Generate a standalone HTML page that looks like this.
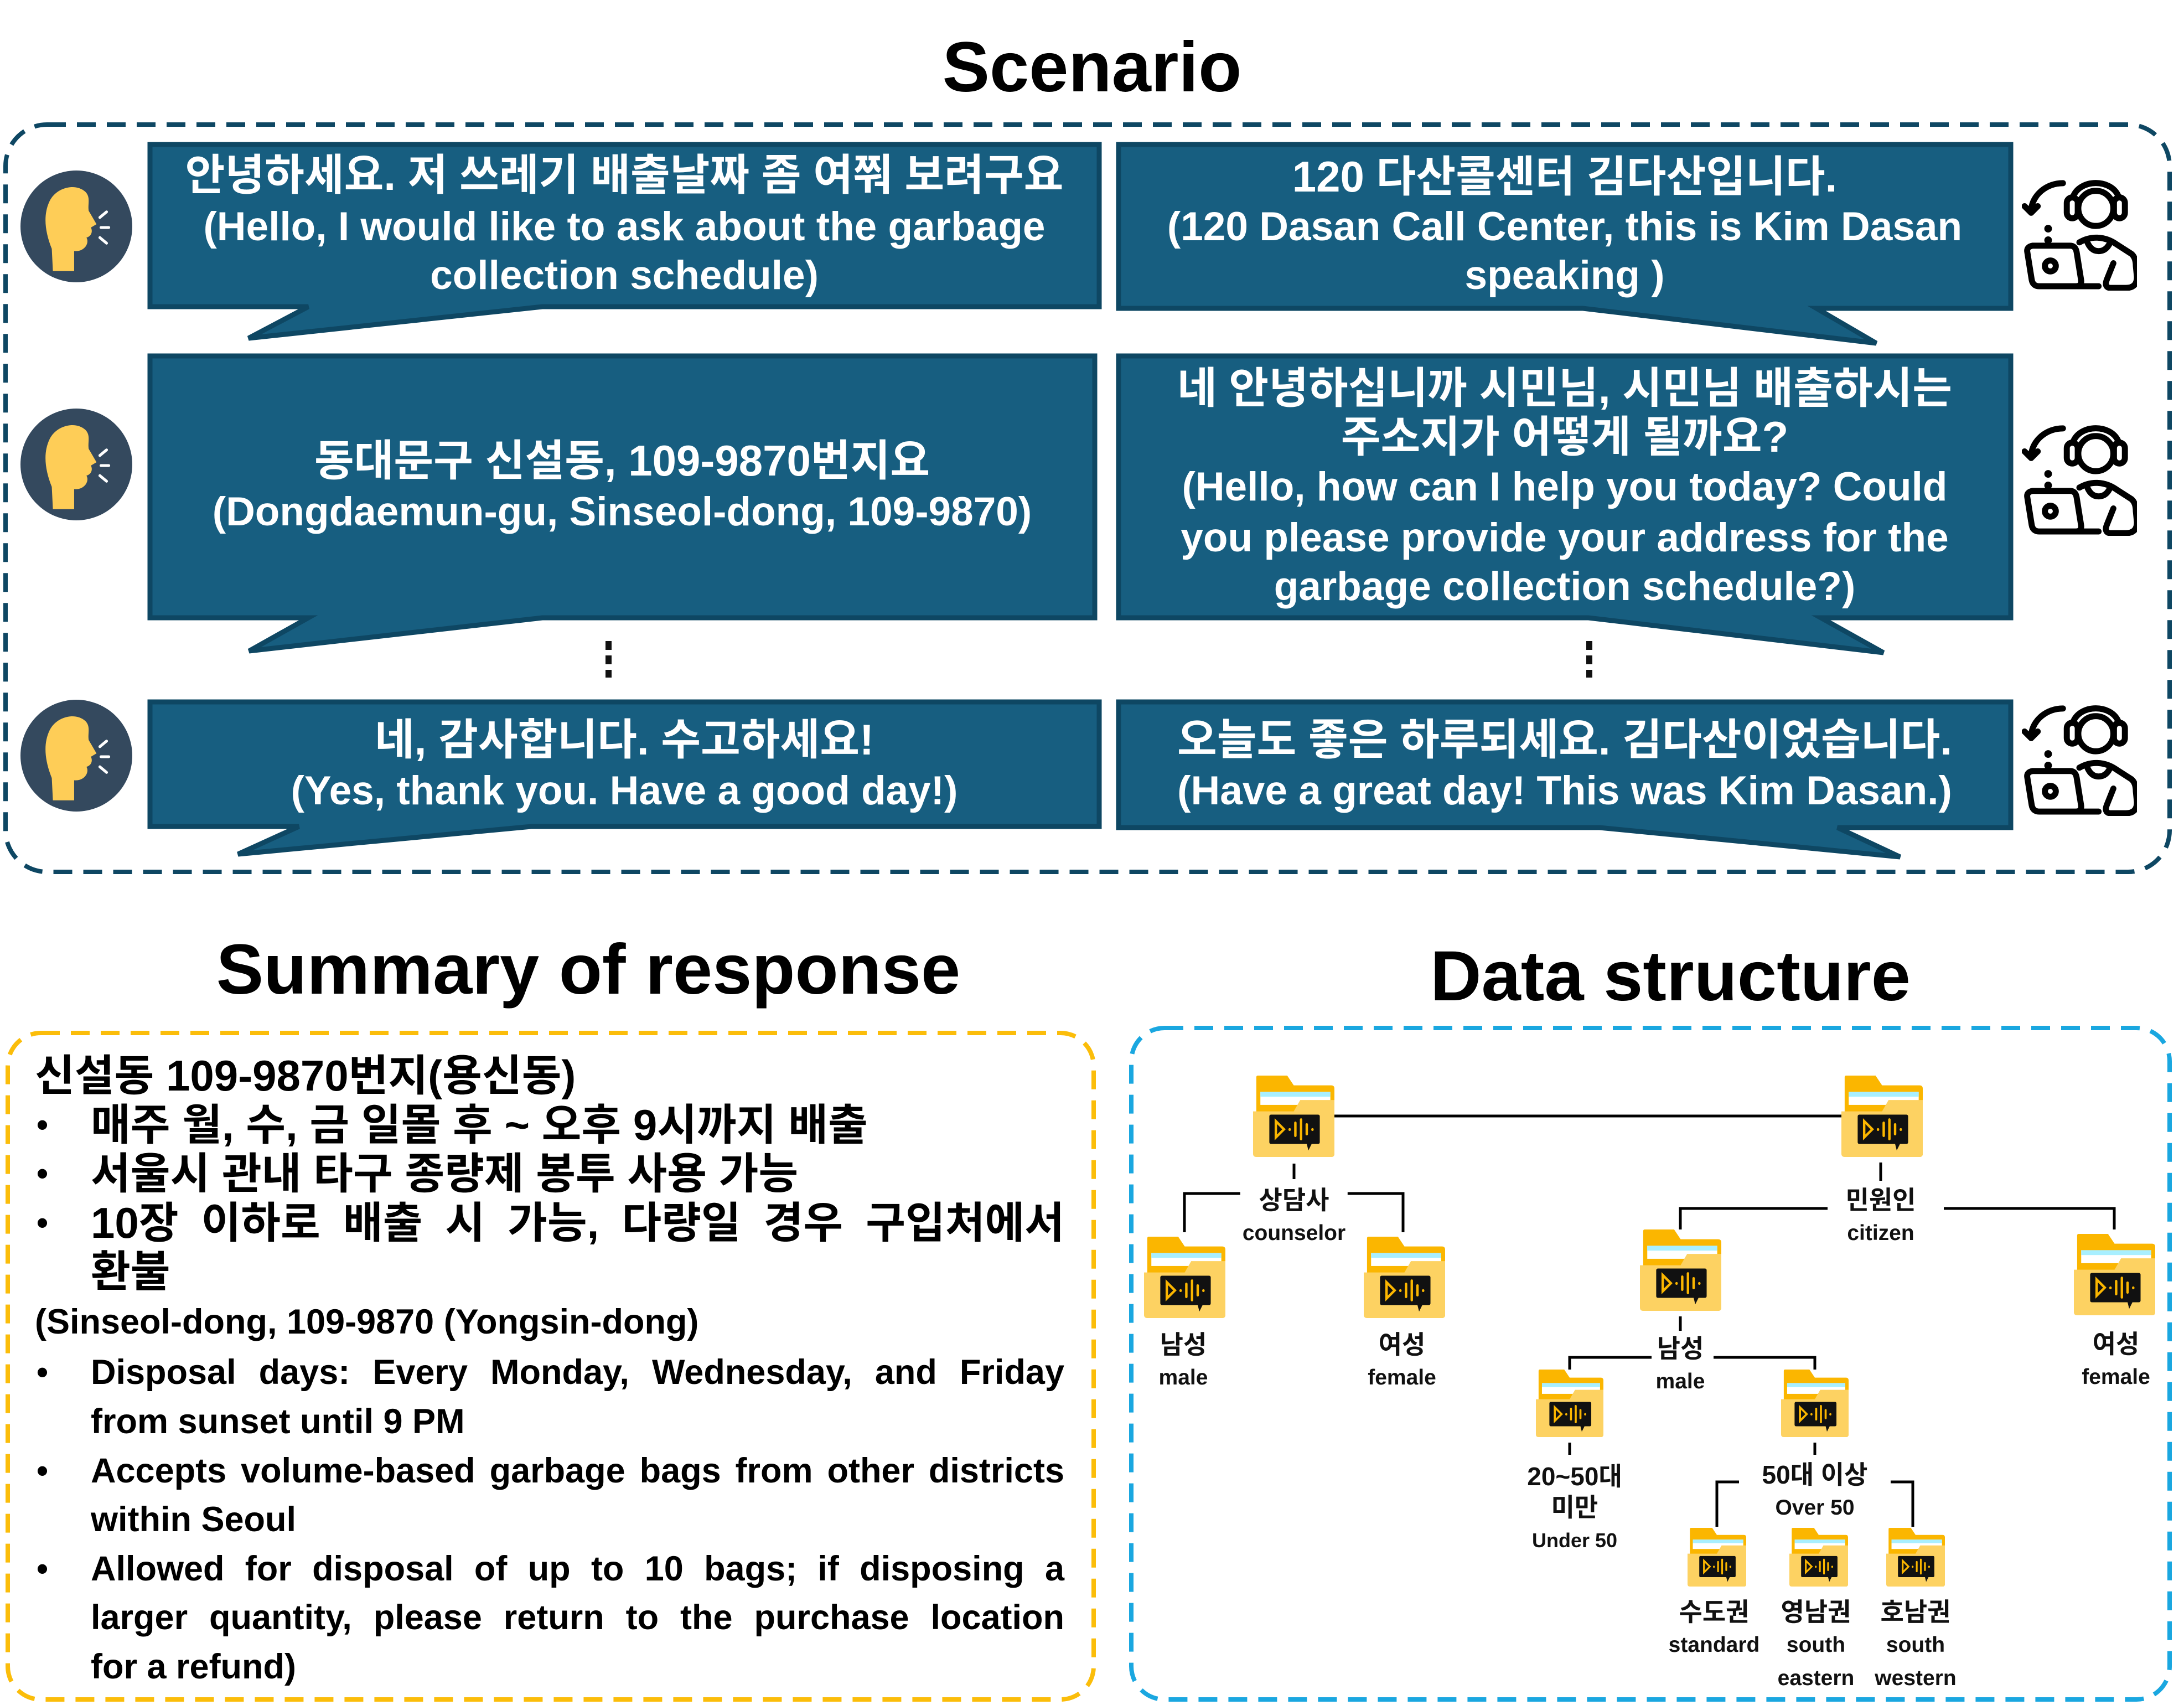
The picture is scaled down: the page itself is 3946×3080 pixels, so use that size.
<!DOCTYPE html>
<html><head><meta charset="utf-8"><style>
*{margin:0;padding:0;box-sizing:border-box}
body{width:3946px;height:3080px;background:#fff;position:relative;overflow:hidden;font-family:"Liberation Sans","Noto Sans CJK KR",sans-serif;font-weight:bold}
.t{position:absolute;white-space:nowrap;line-height:90px;height:90px}
.w{color:#fff;font-size:73px;text-align:center}
.k{font-size:78px}
.c{transform:translateX(-50%)}
.h{font-size:128px;color:#000}
.s{position:absolute;font-size:63px;line-height:90px;height:90px;white-space:nowrap;color:#000}
.sk{font-size:78px}
.j{text-align:justify;text-align-last:justify}
.b{position:absolute;font-size:60px;line-height:90px;height:90px}
.d{position:absolute;font-size:46px;line-height:56px;text-align:center;transform:translateX(-50%);white-space:nowrap;color:#111}
.d i{font-style:normal;font-size:39px}
</style></head><body>
<svg width="3946" height="3080" style="position:absolute;left:0;top:0">
<defs>
<symbol id="fold" viewBox="0 0 100 100">
<path d="M4,2 Q4,0 6,0 H42 L50,12 H96 Q100,12 100,16 V96 Q100,100 96,100 H4 Z" fill="#fbb600"/>
<rect x="9" y="20" width="86" height="16" fill="#fff"/>
<rect x="9" y="20" width="86" height="6" fill="#a8efff"/>
<path d="M0,44 H50 L58,30 H100 V96 Q100,100 96,100 H4 Q0,100 0,96 Z" fill="#fdd262"/>
<rect x="20" y="48" width="62" height="36" rx="2" fill="#111"/>
<path d="M66,84 L72,84 L68,92 Z" fill="#111"/>
<path d="M28,56 L28,76 L38,66 Z" fill="none" stroke="#fbb600" stroke-width="3"/>
<g stroke="#fbb600" stroke-width="3" stroke-linecap="round"><line x1="45" y1="66" x2="45" y2="66.5"/><line x1="52" y1="58" x2="52" y2="74"/><line x1="59" y1="54" x2="59" y2="78"/><line x1="66" y1="60" x2="66" y2="72"/><line x1="73" y1="66" x2="73" y2="66.5"/></g>
</symbol>
<symbol id="head" viewBox="-100 -100 200 200">
<circle cx="0" cy="0" r="100" fill="#34495e"/>
<path d="M-42,80 L-44,40 C-56,10 -60,-20 -48,-45 C-36,-70 -2,-78 16,-62 C26,-52 20,-40 22,-28 L36,-4 L26,2 C30,10 26,18 18,20 C24,30 14,46 -4,44 L-4,80 Z" fill="#fecd57"/>
<g stroke="#fff" stroke-width="5" stroke-linecap="round"><line x1="42" y1="-16" x2="54" y2="-26"/><line x1="44" y1="2" x2="58" y2="2"/><line x1="42" y1="20" x2="54" y2="30"/></g>
</symbol>
<symbol id="agent" viewBox="0 0 210 210">
<g fill="none" stroke="#000" stroke-width="11" stroke-linecap="round" stroke-linejoin="round">
<path d="M75,14 C45,14 20,35 17,62"/><path d="M5,56 L17,68 L29,56"/>
<circle cx="135" cy="60" r="32"/>
<path d="M93,40 C105,5 165,5 177,40"/>
<rect x="82" y="40" width="20" height="38" rx="10"/><rect x="168" y="40" width="20" height="38" rx="10"/>
<path d="M105,122 C125,110 150,110 172,125 L200,143 Q208,150 208,165 L210,185 Q210,205 190,205 L160,205 Q150,203 155,190 L167,160"/>
<path d="M118,118 Q125,138 140,138 Q155,138 162,120"/>
<path d="M10,140 Q8,130 20,128 L88,128 Q98,128 100,140 L108,190 Q110,202 98,202 L32,202 Q20,202 18,190 Z"/>
<line x1="100" y1="202" x2="140" y2="202"/>
<circle cx="52" cy="165" r="10"/>
</g>
<circle cx="48" cy="97" r="7" fill="#000"/><circle cx="48" cy="118" r="7" fill="#000"/>
</symbol>
</defs>
<rect x="10" y="225" width="3910" height="1350" rx="75" fill="none" stroke="#0e4763" stroke-width="8" stroke-dasharray="34 20"/>
<g fill="#175e80" stroke="#0e4763" stroke-width="9" stroke-linejoin="miter">
<path d="M271,261 H1986 V554 H980 L449,611 L557,554 H271 Z"/>
<path d="M2021,261 H3633 V557 H3282 L3390,620 L2860,557 H2021 Z"/>
<path d="M271,643 H1978 V1116 H980 L450,1176 L557,1116 H271 Z"/>
<path d="M2021,643 H3633 V1116 H3290 L3403,1179 L2870,1116 H2021 Z"/>
<path d="M271,1268 H1986 V1493 H960 L430,1543 L540,1493 H271 Z"/>
<path d="M2021,1268 H3633 V1495 H3320 L3433,1548 L2890,1495 H2021 Z"/>
</g>
<g fill="#111"><rect x="1094" y="1158" width="11" height="16"/><rect x="1094" y="1184" width="11" height="16"/><rect x="1094" y="1210" width="11" height="14"/>
<rect x="2866" y="1158" width="11" height="16"/><rect x="2866" y="1184" width="11" height="16"/><rect x="2866" y="1210" width="11" height="14"/></g>
<use href="#head" x="37" y="308" width="202" height="202"/>
<use href="#head" x="37" y="738" width="202" height="202"/>
<use href="#head" x="37" y="1264" width="202" height="202"/>
<use href="#agent" x="3653" y="317" width="208" height="208"/>
<use href="#agent" x="3653" y="760" width="208" height="208"/>
<use href="#agent" x="3653" y="1266" width="208" height="208"/>
<rect x="14" y="1866" width="1962" height="1204" rx="60" fill="none" stroke="#fbbd0a" stroke-width="8" stroke-dasharray="34 20"/>
<rect x="2044" y="1857" width="1876" height="1213" rx="60" fill="none" stroke="#1aa7e0" stroke-width="8" stroke-dasharray="34 20"/>
<g stroke="#000" stroke-width="5" fill="none">
<line x1="2411" y1="2016" x2="3327" y2="2016"/>
<line x1="2338" y1="2102" x2="2338" y2="2130"/>
<path d="M2140,2226 V2156 H2272"/><path d="M2404,2156 H2535 V2226"/>
<line x1="3398" y1="2100" x2="3398" y2="2133"/>
<path d="M3036,2221 V2183 H3302"/><path d="M3512,2183 H3820 V2221"/>
<line x1="3036" y1="2378" x2="3036" y2="2404"/>
<path d="M2836,2474 V2452 H2984"/><path d="M3096,2452 H3279 V2474"/>
<line x1="2836" y1="2606" x2="2836" y2="2628"/>
<line x1="3279" y1="2606" x2="3279" y2="2628"/>
<path d="M3102,2758 V2677 H3142"/><path d="M3416,2677 H3456 V2758"/>
</g>
<use href="#fold" x="2264" y="1943" width="147" height="147"/>
<use href="#fold" x="3327" y="1943" width="147" height="147"/>
<use href="#fold" x="2067" y="2234" width="147" height="147"/>
<use href="#fold" x="2464" y="2234" width="147" height="147"/>
<use href="#fold" x="2963" y="2221" width="147" height="147"/>
<use href="#fold" x="3747" y="2229" width="147" height="147"/>
<use href="#fold" x="2775" y="2474" width="122" height="122"/>
<use href="#fold" x="3218" y="2474" width="122" height="122"/>
<use href="#fold" x="3049" y="2760" width="106" height="106"/>
<use href="#fold" x="3233" y="2760" width="106" height="106"/>
<use href="#fold" x="3408" y="2760" width="106" height="106"/>
</svg>

<div class="t h c" style="left:1973px;top:52px;height:140px;line-height:140px">Scenario</div>
<div class="t h c" style="left:1063px;top:1682px;height:140px;line-height:140px">Summary of response</div>
<div class="t h c" style="left:3018px;top:1694px;height:140px;line-height:140px">Data structure</div>

<div class="t w k c" style="left:1128px;top:271px">안녕하세요. 저 쓰레기 배출날짜 좀 여쭤 보려구요</div>
<div class="t w c" style="left:1128px;top:365px">(Hello, I would like to ask about the garbage</div>
<div class="t w c" style="left:1128px;top:453px">collection schedule)</div>
<div class="t w k c" style="left:2827px;top:274px">120 다산콜센터 김다산입니다.</div>
<div class="t w c" style="left:2827px;top:365px">(120 Dasan Call Center, this is Kim Dasan</div>
<div class="t w c" style="left:2827px;top:453px">speaking )</div>
<div class="t w k c" style="left:1124px;top:787px">동대문구 신설동, 109-9870번지요</div>
<div class="t w c" style="left:1124px;top:880px">(Dongdaemun-gu, Sinseol-dong, 109-9870)</div>
<div class="t w k c" style="left:2827px;top:656px">네 안녕하십니까 시민님, 시민님 배출하시는</div>
<div class="t w k c" style="left:2827px;top:744px">주소지가 어떻게 될까요?</div>
<div class="t w c" style="left:2827px;top:835px">(Hello, how can I help you today? Could</div>
<div class="t w c" style="left:2827px;top:927px">you please provide your address for the</div>
<div class="t w c" style="left:2827px;top:1015px">garbage collection schedule?)</div>
<div class="t w k c" style="left:1128px;top:1291px">네, 감사합니다. 수고하세요!</div>
<div class="t w c" style="left:1128px;top:1384px">(Yes, thank you. Have a good day!)</div>
<div class="t w k c" style="left:2827px;top:1291px">오늘도 좋은 하루되세요. 김다산이었습니다.</div>
<div class="t w c" style="left:2827px;top:1384px">(Have a great day! This was Kim Dasan.)</div>

<div class="s sk" style="left:63px;top:1898px">신설동 109-9870번지(용신동)</div>
<div class="b" style="left:66px;top:1987px">•</div><div class="s sk" style="left:164px;top:1987px">매주 월, 수, 금 일몰 후 ~ 오후 9시까지 배출</div>
<div class="b" style="left:66px;top:2075px">•</div><div class="s sk" style="left:164px;top:2075px">서울시 관내 타구 종량제 봉투 사용 가능</div>
<div class="b" style="left:66px;top:2164px">•</div><div class="s sk j" style="left:164px;top:2164px;width:1759px">10장 이하로 배출 시 가능, 다량일 경우 구입처에서</div>
<div class="s sk" style="left:164px;top:2252px">환불</div>
<div class="s" style="left:63px;top:2343px">(Sinseol-dong, 109-9870 (Yongsin-dong)</div>
<div class="b" style="left:66px;top:2434px">•</div><div class="s j" style="left:164px;top:2434px;width:1759px">Disposal days: Every Monday, Wednesday, and Friday</div>
<div class="s" style="left:164px;top:2523px">from sunset until 9 PM</div>
<div class="b" style="left:66px;top:2612px">•</div><div class="s j" style="left:164px;top:2612px;width:1759px">Accepts volume-based garbage bags from other districts</div>
<div class="s" style="left:164px;top:2700px">within Seoul</div>
<div class="b" style="left:66px;top:2789px">•</div><div class="s j" style="left:164px;top:2789px;width:1759px">Allowed for disposal of up to 10 bags; if disposing a</div>
<div class="s j" style="left:164px;top:2877px;width:1759px">larger quantity, please return to the purchase location</div>
<div class="s" style="left:164px;top:2966px">for a refund)</div>

<div class="d" style="left:2338px;top:2140px;background:#fff;padding:0 4px">상담사<br><i>counselor</i></div>
<div class="d" style="left:3398px;top:2140px">민원인<br><i>citizen</i></div>
<div class="d" style="left:2138px;top:2401px">남성<br><i>male</i></div>
<div class="d" style="left:2533px;top:2401px">여성<br><i>female</i></div>
<div class="d" style="left:3036px;top:2408px">남성<br><i>male</i></div>
<div class="d" style="left:3823px;top:2400px">여성<br><i>female</i></div>
<div class="d" style="left:2845px;top:2639px">20~50대<br>미만<br><i style="font-size:36px">Under 50</i></div>
<div class="d" style="left:3279px;top:2636px">50대 이상<br><i>Over 50</i></div>
<div class="d" style="left:3097px;top:2884px">수도권<br><i>standard</i></div>
<div class="d" style="left:3281px;top:2884px">영남권<br><i>south<br>eastern</i></div>
<div class="d" style="left:3461px;top:2884px">호남권<br><i>south<br>western</i></div>
</body></html>
